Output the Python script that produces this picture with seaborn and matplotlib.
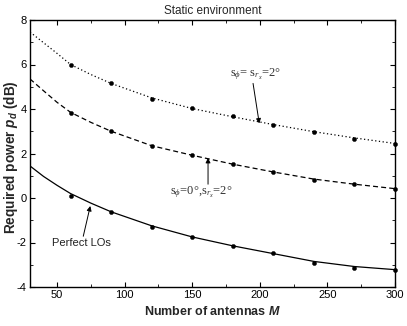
import matplotlib
matplotlib.use("Agg")
import matplotlib.pyplot as plt
import seaborn as sns
import pandas as pd

# ---- data ----
antennas_line = [30, 40, 50, 60, 75, 90, 120, 150, 180, 210, 240, 270, 300]
theory_both = [7.46, 6.98, 6.5, 6.0, 5.55, 5.15, 4.5, 4.02, 3.65, 3.3, 2.98, 2.7, 2.45]
theory_rx = [5.35, 4.82, 4.3, 3.85, 3.4, 3.0, 2.35, 1.92, 1.52, 1.17, 0.85, 0.62, 0.42]
theory_perfect = [1.44, 0.97, 0.57, 0.2, -0.23, -0.62, -1.25, -1.75, -2.15, -2.5, -2.85, -3.08, -3.22]

antennas_sim = [60, 90, 120, 150, 180, 210, 240, 270, 300]
sim_both = [5.97, 5.17, 4.47, 4.05, 3.7, 3.28, 2.96, 2.65, 2.42]
sim_rx = [3.82, 3.0, 2.33, 1.93, 1.53, 1.17, 0.81, 0.63, 0.4]
sim_perfect = [0.1, -0.63, -1.3, -1.75, -2.15, -2.47, -2.92, -3.15, -3.24]

title = "Static environment"
xticks = [50, 100, 150, 200, 250, 300]
yticks = [-4, -2, 0, 2, 4, 6, 8]

sns.set_style("ticks")
plt.rcParams['font.family'] = ['Liberation Sans', 'DejaVu Sans']
plt.rcParams['mathtext.fontset'] = 'custom'
plt.rcParams['mathtext.rm'] = 'Liberation Serif'
plt.rcParams['mathtext.it'] = 'Liberation Serif:italic'
plt.rcParams['mathtext.bf'] = 'Liberation Sans:bold'
plt.rcParams['mathtext.bfit'] = 'Liberation Sans:italic:bold'

fig = plt.figure(figsize=(4.07, 3.26), dpi=100)
ax = fig.add_axes([30/407, 1-287/326, 365/407, 267/326])

lines = pd.DataFrame({"M": antennas_line, "both": theory_both, "rx": theory_rx, "perfect": theory_perfect})
sims = pd.DataFrame({"M": antennas_sim, "both": sim_both, "rx": sim_rx, "perfect": sim_perfect})

for col, ls in [("both", (0, (1, 2))), ("rx", (0, (4, 2.5))), ("perfect", "-")]:
    sns.lineplot(data=lines, x="M", y=col, ax=ax, color="black", lw=0.9,
                 linestyle=ls, legend=False)
    sns.scatterplot(data=sims, x="M", y=col, ax=ax, color="black", s=9,
                    edgecolor="black", linewidth=0.3, legend=False, clip_on=False, zorder=3)

ax.set_xlim(30, 300)
ax.set_ylim(-4, 8)
ax.set_xticks(xticks)
ax.set_yticks(yticks)
ax.set_xticklabels([str(t) for t in xticks])
ax.set_yticklabels([str(t) for t in yticks])
ax.xaxis.set_minor_locator(matplotlib.ticker.MultipleLocator(25))
ax.yaxis.set_minor_locator(matplotlib.ticker.MultipleLocator(1))
ax.tick_params(which='both', direction='in', top=True, right=True, labelsize=8, colors='black')
ax.tick_params(which='major', length=3.5, width=0.8, pad=2.5)
ax.tick_params(which='minor', length=2, width=0.6)
for sp in ax.spines.values():
    sp.set_linewidth(1.0)
    sp.set_color('black')

ax.set_xlabel(r"Number of antennas $\mathbfit{M}$", fontsize=9, fontweight='bold', labelpad=3)
ax.set_ylabel(r"Required power $\mathbfit{p}_{\mathbfit{d}}$ (dB)", fontsize=9.8, fontweight='bold')
ax.yaxis.set_label_coords(-0.028, 0.487)
ax.set_title(title, fontsize=8.5, pad=4)

arrow_kw = dict(arrowstyle='-|>', color='black', lw=0.7, mutation_scale=7, shrinkA=0, shrinkB=0)
serif_kw = dict(fontsize=9, color='#333333', family='Liberation Serif', ha='center', va='center')

ax.text(197, 5.55, r"s$_{\phi}$= s$_{r_x}$=2°", **serif_kw)
ax.annotate("", xy=(199.6, 3.35), xytext=(195, 5.15), arrowprops=arrow_kw)

ax.text(157, 0.27, r"s$_{\phi}$=0°,s$_{r_x}$=2°", **serif_kw)
ax.annotate("", xy=(161.7, 1.8), xytext=(161.7, 0.62), arrowprops=arrow_kw)

ax.text(68, -2.02, "Perfect LOs", fontsize=8, color='#222222', ha='center', va='center')
ax.annotate("", xy=(74.6, -0.36), xytext=(69.4, -1.72), arrowprops=arrow_kw)

fig.savefig("out.png", dpi=100)
